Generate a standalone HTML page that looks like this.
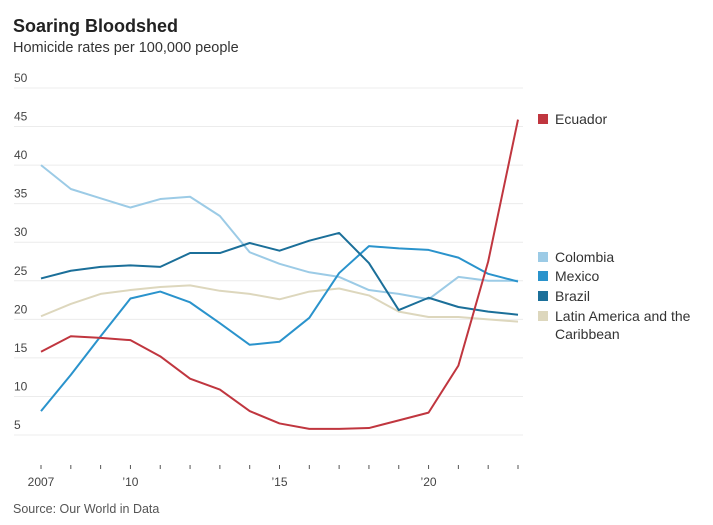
<!DOCTYPE html>
<html><head><meta charset="utf-8"><style>
body{margin:0;background:#fff;font-family:"Liberation Sans",sans-serif;}
#c{position:relative;width:713px;height:525px;overflow:hidden}
.t{position:absolute;left:13px;top:16px;font-weight:bold;font-size:18px;color:#222}
.s{position:absolute;left:13px;top:40px;font-size:14.5px;color:#333}
.src{position:absolute;left:13px;top:502px;font-size:12.5px;color:#555}
svg text{font-family:"Liberation Sans",sans-serif}
</style></head><body>
<div id="c">
<div class="t">Soaring Bloodshed</div>
<div class="s">Homicide rates per 100,000 people</div>
<div class="src">Source: Our World in Data</div>
<svg id="svg" width="713" height="525" style="position:absolute;left:0;top:0"></svg>
</div>
<script>
const years=[2007,2008,2009,2010,2011,2012,2013,2014,2015,2016,2017,2018,2019,2020,2021,2022,2023];
const yTicks=[5,10,15,20,25,30,35,40,45,50];
const xLabelYears=[2007,2010,2015,2020];
const xLabelText=["2007","\u201910","\u201915","\u201920"];
const colombia=[40,36.9,35.7,34.5,35.6,35.9,33.4,28.7,27.2,26.1,25.5,23.8,23.3,22.6,25.5,25.0,25.0];
const mexico=[8.1,12.8,17.8,22.7,23.6,22.2,19.5,16.7,17.1,20.2,26.0,29.5,29.2,29.0,28.0,25.9,24.9];
const brazil=[25.3,26.3,26.8,27.0,26.8,28.6,28.6,29.9,28.9,30.2,31.2,27.3,21.2,22.8,21.6,21.0,20.6];
const latam=[20.4,22.0,23.3,23.8,24.2,24.4,23.7,23.3,22.6,23.6,24.0,23.1,21.0,20.3,20.3,20.0,19.7];
const ecuador=[15.8,17.8,17.6,17.3,15.2,12.3,10.9,8.1,6.5,5.8,5.8,5.9,6.9,7.9,14.0,27.5,45.9];
const seriesNames=["Latin America and the Caribbean","Colombia","Mexico","Brazil","Ecuador"];
const svg=document.getElementById('svg');const NS='http://www.w3.org/2000/svg';
const x=v=>41+(v-2007)*(518-41)/16;
const y=v=>435-(v-5)*(435-88)/45;
function el(t,a){const e=document.createElementNS(NS,t);for(const k in a)e.setAttribute(k,a[k]);svg.appendChild(e);return e;}
yTicks.forEach(v=>{
 const g=el('line',{x1:14,x2:523,y1:y(v),y2:y(v),stroke:'#ececec','stroke-width':1});
 
 
 const t=el('text',{x:14,y:y(v)-6,'font-size':12,fill:'#444'});t.textContent=v;
 
 
});
years.forEach(yr=>{
 const m=el('line',{x1:x(yr),x2:x(yr),y1:465,y2:469,stroke:'#555','stroke-width':1});
 
 
});
xLabelYears.forEach((yr,i)=>{
 const t=el('text',{x:x(yr),y:486,'font-size':12,fill:'#444','text-anchor':'middle'});t.textContent=xLabelText[i];
 
 
});
const data=[latam,colombia,mexico,brazil,ecuador];
const colors=['#ddd7bd','#9ccbe6','#2a93cc','#1b6f99','#c0363f'];
const names=['latam-line','colombia-line','mexico-line','brazil-line','ecuador-line'];
data.forEach((d,i)=>{
 const p=el('polyline',{points:d.map((v,j)=>x(years[j])+','+y(v)).join(' '),fill:'none',stroke:colors[i],'stroke-width':2,'stroke-linejoin':'round'});
 
 
});
const leg=[['Ecuador',119,'#c0363f'],['Colombia',257,'#9ccbe6'],['Mexico',276,'#2a93cc'],['Brazil',296,'#1b6f99'],['Latin America and the',316,'#ddd7bd']];
leg.forEach(l=>{
 const r=el('rect',{x:538,y:l[1]-5,width:10,height:10,fill:l[2]});
 
 
 const t=el('text',{x:555,y:l[1]+5,'font-size':14,fill:'#333'});t.textContent=l[0];
 
 
});
const t2=el('text',{x:555,y:339,'font-size':14,fill:'#333'});t2.textContent='Caribbean';


</script>
</body></html>
